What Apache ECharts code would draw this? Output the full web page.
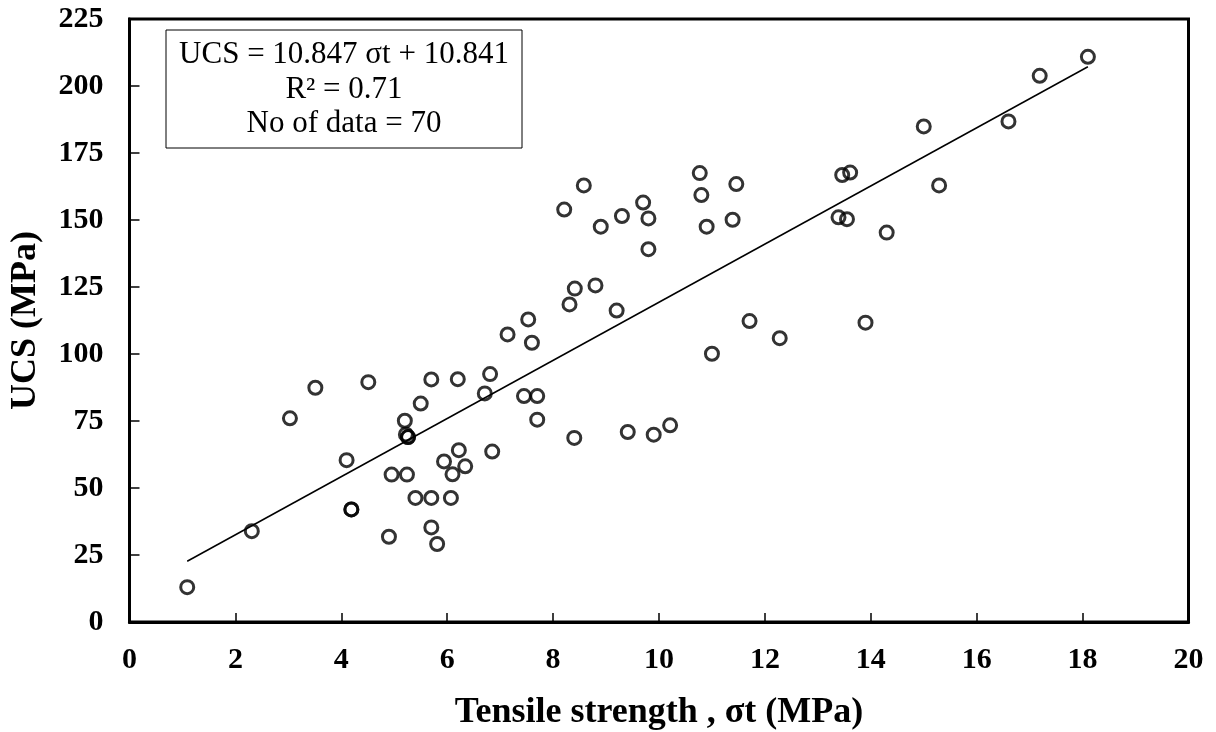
<!DOCTYPE html>
<html>
<head>
<meta charset="utf-8">
<script src="https://cdn.jsdelivr.net/npm/echarts@6/dist/echarts.min.js"></script>
<style>
html,body{margin:0;padding:0;background:#fff;}
#chart{width:1216px;height:732px;}
</style>
</head>
<body>
<div id="chart"></div>
<script>
// Tensile strength (MPa)
const tensile = [1.09,2.31,3.03,3.51,4.51,4.10,4.19,4.19,4.90,4.95,5.24,5.20,5.22,5.26,5.50,5.40,5.70,5.70,5.81,5.70,
  6.20,5.94,6.22,6.34,6.10,6.07,6.81,6.71,6.85,7.14,7.60,7.45,7.70,7.70,8.40,9.41,9.90,10.21,11.00,7.53,
  8.31,8.41,8.80,9.20,8.21,8.58,8.90,9.30,9.70,9.80,9.80,10.77,10.80,10.90,11.39,11.46,13.46,13.61,13.39,13.55,
  14.30,11.71,12.28,13.90,18.10,17.19,16.60,15.00,15.29,5.26];
// UCS (MPa)
const ucs = [13.0,33.9,76.0,87.4,89.5,60.4,42.0,42.0,31.8,55.0,55.0,75.1,70.0,69.0,81.5,46.3,46.3,35.3,29.1,90.5,
  90.6,59.9,64.1,58.1,55.1,46.3,92.5,85.3,63.6,107.3,104.2,84.3,84.3,75.5,68.7,70.9,69.9,73.4,100.1,112.9,
  118.5,124.4,125.6,116.2,153.9,162.9,147.5,151.5,156.5,150.6,139.1,167.5,159.3,147.5,150.1,163.4,166.8,167.7,151.0,150.3,
  145.3,112.3,105.9,111.7,210.9,203.8,186.8,184.9,162.9,69.0];
const slope = 10.847;
const intercept = 10.841;
const boxLines = ['UCS = 10.847 σt + 10.841', 'R² = 0.71', 'No of data = 70'];

const points = tensile.map((x, i) => [x, ucs[i]]);
const xMin = Math.min(...tensile), xMax = Math.max(...tensile);
const trend = [[xMin, slope * xMin + intercept], [xMax, slope * xMax + intercept]];

const chart = echarts.init(document.getElementById('chart'));
const font = '"Liberation Serif","Times New Roman",serif';
chart.setOption({
  animation: false,
  grid: {left: 129.5, right: 27.5, top: 19, bottom: 110, show: true, borderColor: '#000', borderWidth: 3,
    backgroundColor: 'transparent', outerBoundsMode: 'none', containLabel: false},
  xAxis: {
    type: 'value', min: 0, max: 20, interval: 2,
    name: 'Tensile strength , σt (MPa)', nameLocation: 'middle', nameGap: 73,
    nameTextStyle: {fontFamily: font, fontWeight: 'bold', fontSize: 36, color: '#000'},
    axisLine: {show: true, lineStyle: {color: '#000', width: 3}},
    axisTick: {show: true, inside: true, length: 9, lineStyle: {color: '#000', width: 1.5}},
    axisLabel: {fontFamily: font, fontWeight: 'bold', fontSize: 30, color: '#000', margin: 23},
    splitLine: {show: false}
  },
  yAxis: {
    type: 'value', min: 0, max: 225, interval: 25,
    name: 'UCS (MPa)', nameLocation: 'middle', nameGap: 86,
    nameTextStyle: {fontFamily: font, fontWeight: 'bold', fontSize: 36, color: '#000'},
    axisLine: {show: true, lineStyle: {color: '#000', width: 3}},
    axisTick: {show: true, inside: true, length: 10, lineStyle: {color: '#000', width: 1.5}},
    axisLabel: {fontFamily: font, fontWeight: 'bold', fontSize: 30, color: '#000', margin: 26},
    splitLine: {show: false}
  },
  series: [
    {
      type: 'line', data: trend, symbol: 'none', silent: true,
      lineStyle: {color: '#000', width: 1.5}, z: 1
    },
    {
      type: 'scatter', data: points, symbol: 'circle', symbolSize: 13,
      itemStyle: {color: 'rgba(255,255,255,0)', borderColor: '#000', borderWidth: 3}, z: 2
    }
  ],
  graphic: [
    {type: 'rect', left: 165.5, top: 29.5, shape: {width: 356, height: 118},
      style: {fill: '#fff', stroke: '#000', lineWidth: 1}, z: 10},
    {type: 'text', x: 344, y: 55, style: {text: boxLines[0], font: '31px ' + font, fill: '#000', align: 'center', verticalAlign: 'middle'}, z: 11},
    {type: 'text', x: 344, y: 90, style: {text: boxLines[1], font: '31px ' + font, fill: '#000', align: 'center', verticalAlign: 'middle'}, z: 11},
    {type: 'text', x: 344, y: 124, style: {text: boxLines[2], font: '31px ' + font, fill: '#000', align: 'center', verticalAlign: 'middle'}, z: 11}
  ]
});
</script>
</body>
</html>
